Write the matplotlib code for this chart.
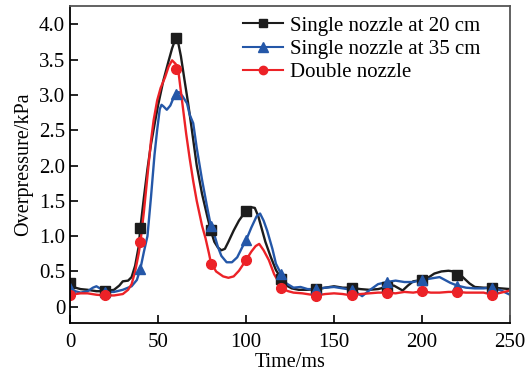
import matplotlib
matplotlib.use("Agg")
import matplotlib.pyplot as plt
from matplotlib.lines import Line2D

plt.rcParams['font.family'] = ['Liberation Serif', 'DejaVu Serif']

# line data (ms, kPa)
t_black = [0, 3, 6, 10, 15, 20, 25, 28, 30, 33, 35, 37, 39, 40, 42, 44, 46, 48, 50, 53,
           56, 58, 60, 61, 63, 65, 67, 69, 72, 75, 78, 80, 82, 84, 86, 88, 90, 93, 96, 100,
           103, 105, 107, 109, 111, 114, 117, 120, 123, 126, 130, 135, 140, 145, 150, 155,
           160, 165, 170, 175, 180, 184, 189, 192, 195, 200, 204, 207, 211, 215, 218, 221,
           224, 227, 230, 235, 240, 245, 250]
p_black = [0.33, 0.27, 0.25, 0.24, 0.22, 0.22, 0.24, 0.30, 0.36, 0.37, 0.42, 0.58, 0.85, 1.12,
           1.55, 1.95, 2.30, 2.58, 2.85, 3.20, 3.48, 3.66, 3.80, 3.80, 3.55, 3.22, 2.90, 2.55,
           2.00, 1.60, 1.28, 1.08, 0.92, 0.84, 0.80, 0.82, 0.92, 1.08, 1.22, 1.36, 1.41, 1.40,
           1.28, 1.10, 0.92, 0.71, 0.52, 0.40, 0.30, 0.26, 0.24, 0.24, 0.25, 0.27, 0.29, 0.27,
           0.27, 0.25, 0.24, 0.25, 0.28, 0.30, 0.23, 0.30, 0.36, 0.38, 0.42, 0.47, 0.50, 0.51,
           0.50, 0.47, 0.40, 0.33, 0.28, 0.27, 0.27, 0.26, 0.25]

t_blue = [0, 3, 6, 10, 13, 15, 17, 20, 25, 30, 35, 38, 40, 42, 44, 46, 48, 49.5, 51, 52, 53,
          55, 57, 59, 61, 62, 64, 66.5, 68, 70, 72, 75, 78, 80, 82, 84, 86, 89, 92, 95, 98,
          100, 103, 106, 108, 110, 112, 115, 117, 120, 123, 127, 131, 135, 140, 145, 150,
          155, 160, 163, 166, 170, 175, 180, 185, 190, 195, 200, 205, 210, 213, 216, 220,
          225, 230, 235, 240, 245, 250]
p_blue = [0.26, 0.22, 0.20, 0.22, 0.27, 0.29, 0.26, 0.21, 0.21, 0.24, 0.29, 0.38, 0.54, 0.78,
          1.00, 1.55, 2.15, 2.50, 2.80, 2.86, 2.84, 2.79, 2.85, 2.97, 3.04, 3.04, 2.98, 2.88,
          2.72, 2.60, 2.25, 1.80, 1.40, 1.15, 1.02, 0.85, 0.72, 0.63, 0.63, 0.70, 0.85, 0.94,
          1.12, 1.28, 1.32, 1.22, 1.08, 0.82, 0.61, 0.46, 0.33, 0.27, 0.28, 0.25, 0.25, 0.27,
          0.28, 0.26, 0.24, 0.20, 0.15, 0.23, 0.32, 0.35, 0.37, 0.35, 0.35, 0.38, 0.40, 0.42,
          0.38, 0.34, 0.30, 0.27, 0.26, 0.26, 0.27, 0.23, 0.17]

t_red = [0, 3, 6, 10, 15, 20, 25, 30, 33, 35, 37, 39, 40, 42, 44, 46, 47.5, 49.5, 51.5, 54,
         56, 58, 60, 61.5, 63, 64.5, 66, 68, 70, 72, 75, 77, 79, 80, 83, 87, 90, 93, 96, 100,
         103, 105.5, 107.5, 110, 113, 116, 119, 120, 124, 127, 132, 140, 145, 150, 155, 160,
         165, 170, 175, 180, 185, 190, 195, 200, 205, 210, 215, 220, 225, 230, 235, 240, 245,
         250]
p_red = [0.16, 0.18, 0.19, 0.19, 0.17, 0.16, 0.16, 0.18, 0.24, 0.32, 0.50, 0.75, 0.91, 1.35,
         1.85, 2.35, 2.64, 2.92, 3.10, 3.25, 3.40, 3.49, 3.44, 3.35, 3.05, 2.75, 2.45, 2.10,
         1.78, 1.50, 1.15, 0.97, 0.75, 0.63, 0.50, 0.43, 0.41, 0.43, 0.51, 0.66, 0.78, 0.86,
         0.89, 0.80, 0.66, 0.46, 0.33, 0.26, 0.22, 0.20, 0.19, 0.16, 0.18, 0.19, 0.18, 0.16,
         0.18, 0.19, 0.20, 0.20, 0.19, 0.21, 0.20, 0.22, 0.20, 0.20, 0.21, 0.21, 0.20, 0.20,
         0.20, 0.17, 0.20, 0.23]

# marker points every 20 ms
t_mark = [0, 20, 40, 60, 80, 100, 120, 140, 160, 180, 200, 220, 240]
m_black = [0.33, 0.22, 1.12, 3.80, 1.08, 1.36, 0.40, 0.25, 0.27, 0.28, 0.38, 0.45, 0.27]
m_blue = [0.26, 0.21, 0.54, 3.02, 1.15, 0.94, 0.46, 0.25, 0.24, 0.35, 0.38, 0.30, 0.27]
m_red = [0.16, 0.16, 0.91, 3.37, 0.61, 0.66, 0.26, 0.15, 0.16, 0.20, 0.22, 0.21, 0.17]

labels = ["Single nozzle at 20 cm", "Single nozzle at 35 cm", "Double nozzle"]
c_black = "#1c1c1c"
c_blue = "#2457a8"
c_red = "#ec2227"

fig = plt.figure(figsize=(5.28, 3.79), dpi=100)
ax = fig.add_axes([0.1326, 0.1478, 0.8333, 0.8364])

ax.plot(t_black, p_black, color=c_black, lw=1.7)
ax.plot(t_blue, p_blue, color=c_blue, lw=1.7)
ax.plot(t_red, p_red, color=c_red, lw=1.7)
ax.plot(t_mark, m_black, "s", color=c_black, ms=6.5, ls="none")
ax.plot(t_mark, m_blue, "^", color=c_blue, ms=7.5, ls="none")
ax.plot(t_mark, m_red, "o", color=c_red, ms=7, ls="none")

handles = [
    Line2D([], [], color=c_black, lw=1.5, marker="s", ms=5.5),
    Line2D([], [], color=c_blue, lw=1.5, marker="^", ms=6.5),
    Line2D([], [], color=c_red, lw=1.5, marker="o", ms=6),
]
ax.legend(handles, labels, loc="upper left", bbox_to_anchor=(0.393, 0.968), frameon=False,
          fontsize=15, handlelength=1.92, handletextpad=0.34, labelspacing=0.18,
          borderaxespad=0, borderpad=0)

ax.set_xlim(0, 250)
ax.set_ylim(-0.23, 4.26)
ax.set_xticks([0, 50, 100, 150, 200, 250])
ax.set_yticks([0, 0.5, 1.0, 1.5, 2.0, 2.5, 3.0, 3.5, 4.0])
ax.set_yticklabels(["0", "0.5", "1.0", "1.5", "2.0", "2.5", "3.0", "3.5", "4.0"])
ax.tick_params(direction="in", length=6, width=1.2, labelsize=15, top=False, right=False)
ax.tick_params(axis="x", pad=7)
for s in ax.spines.values():
    s.set_linewidth(1.3)
ax.spines["right"].set_color("#555555")
ax.spines["top"].set_color("#555555")
ax.set_xlabel("Time/ms", fontsize=14.5, labelpad=1)
ax.set_ylabel("Overpressure/kPa", fontsize=14.5, labelpad=4)

fig.savefig("out.png", dpi=100)
